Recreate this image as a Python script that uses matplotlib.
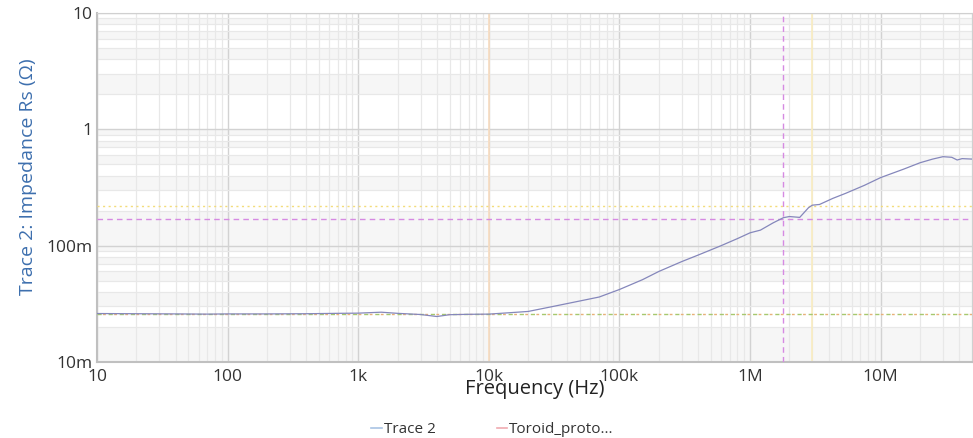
import matplotlib.pyplot as plt
from matplotlib.lines import Line2D
from matplotlib.ticker import FixedLocator, FixedFormatter, LogLocator, NullFormatter

# trace (Hz, ohm)
freq_hz = [10, 20, 40, 70, 100, 200, 400, 700, 1000, 1500, 2000, 3000, 4000, 5000,
           7000, 10e3, 15e3, 20e3, 30e3, 50e3, 70e3, 100e3, 150e3, 200e3, 300e3,
           400e3, 600e3, 800e3, 1e6, 1.2e6, 1.5e6, 1.8e6, 2e6, 2.4e6, 2.8e6, 3e6,
           3.4e6, 4.3e6, 5.4e6, 7.5e6, 10e6, 15e6, 20e6, 25e6, 30e6, 35e6, 38.5e6,
           42e6, 50e6]
rs_ohm = [0.0261, 0.0260, 0.0259, 0.0258, 0.0259, 0.0259, 0.0260, 0.0262, 0.0263,
          0.0268, 0.0262, 0.0256, 0.0246, 0.0255, 0.0257, 0.0258, 0.0266, 0.0272,
          0.0298, 0.0335, 0.0362, 0.042, 0.051, 0.060, 0.073, 0.083, 0.100, 0.115,
          0.129, 0.136, 0.157, 0.174, 0.178, 0.175, 0.212, 0.223, 0.226, 0.255,
          0.282, 0.330, 0.385, 0.455, 0.516, 0.555, 0.582, 0.575, 0.545, 0.560, 0.555]

# cursors / reference lines
cursor_f = 1.78e6
cursor_rs = 0.169
ref_rs_yellow = 0.221
ref_rs_base = 0.0258
ref_f_orange = 10e3
ref_f_yellow = 3e6

x_ticks = [10, 100, 1e3, 10e3, 100e3, 1e6, 10e6]
x_labels = ["10", "100", "1k", "10k", "100k", "1M", "10M"]
y_ticks = [0.01, 0.1, 1, 10]
y_labels = ["10m", "100m", "1", "10"]

# shaded bands behind the plot
bands = [(2, 3), (4, 5), (6, 7), (8, 9),
         (0.1, 0.2), (0.3, 0.4), (0.5, 0.6), (0.7, 0.8), (0.9, 1.0),
         (0.01, 0.02), (0.03, 0.04), (0.05, 0.06), (0.07, 0.08), (0.09, 0.1)]

plt.rcParams['font.family'] = ['Open Sans', 'DejaVu Sans']

fig = plt.figure(figsize=(9.73, 4.38), dpi=100)
ax = fig.add_axes([97 / 973, 76 / 438, 875 / 973, 349 / 438])
ax.set_xscale('log')
ax.set_yscale('log')
ax.set_xlim(10, 50e6)
ax.set_ylim(0.01, 10)

for lo, hi in bands:
    ax.axhspan(lo, hi, color='#f6f6f6', lw=0, zorder=0)

ax.xaxis.set_major_locator(FixedLocator(x_ticks))
ax.xaxis.set_major_formatter(FixedFormatter(x_labels))
ax.yaxis.set_major_locator(FixedLocator(y_ticks))
ax.yaxis.set_major_formatter(FixedFormatter(y_labels))
ax.xaxis.set_minor_locator(LogLocator(base=10, subs=range(2, 10), numticks=20))
ax.yaxis.set_minor_locator(LogLocator(base=10, subs=range(2, 10), numticks=20))
ax.xaxis.set_minor_formatter(NullFormatter())
ax.yaxis.set_minor_formatter(NullFormatter())

ax.grid(which='major', color='#d2d2d2', lw=1.0, zorder=1)
ax.grid(which='minor', color='#e8e8e8', lw=0.9, zorder=1)
ax.set_axisbelow(True)
ax.tick_params(which='both', length=0, labelsize=12.5, colors='#333333')
ax.tick_params(axis='x', pad=5)
ax.tick_params(axis='y', pad=3)

for s in ['top', 'right']:
    ax.spines[s].set_color('#d0d0d0')
    ax.spines[s].set_linewidth(0.8)
for s in ['left', 'bottom']:
    ax.spines[s].set_color('#c0c0c0')
    ax.spines[s].set_linewidth(1.5)

# reference lines
ax.axvline(ref_f_orange, color='#f8dcc0', lw=1.2, zorder=2)
ax.axvline(ref_f_yellow, color='#f9ecc0', lw=1.2, zorder=2)
ax.axvline(cursor_f, color='#d68ae2', lw=1.0, ls=(0, (4, 3)), zorder=3)
ax.axhline(cursor_rs, color='#d68ae2', lw=1.0, ls=(0, (4, 3)), zorder=3)
ax.axhline(ref_rs_yellow, color='#f3dc7a', lw=1.0, ls=(0, (1.5, 2.5)), zorder=3)
ax.axhline(ref_rs_base, color='#a6c86e', lw=1.0, ls=(0, (3, 5)), zorder=3)
ax.axhline(ref_rs_base, color='#e8b07a', lw=1.0, ls=(4, (2, 6)), zorder=3)

ax.plot(freq_hz, rs_ohm, color='#8587bb', lw=0.9, zorder=4)

ax.set_xlabel("Frequency (Hz)", fontsize=14.5, color='#222222')
ax.xaxis.set_label_coords(0.5, -0.05)
ax.set_ylabel("Trace 2: Impedance Rs (Ω)", fontsize=14, color='#3d6fae')
ax.yaxis.set_label_coords(-0.069, 0.53)

handles = [Line2D([], [], color='#a9c4e4', lw=1.2),
           Line2D([], [], color='#f0aab0', lw=1.2)]
fig.legend(handles, ["Trace 2", "Toroid_proto..."], loc='lower center',
           bbox_to_anchor=(0.506, -0.03), ncol=2, frameon=False, fontsize=11,
           handlelength=0.7, handletextpad=0.12, columnspacing=4.0,
           labelcolor='#333333')

fig.savefig('out.png', dpi=100)
